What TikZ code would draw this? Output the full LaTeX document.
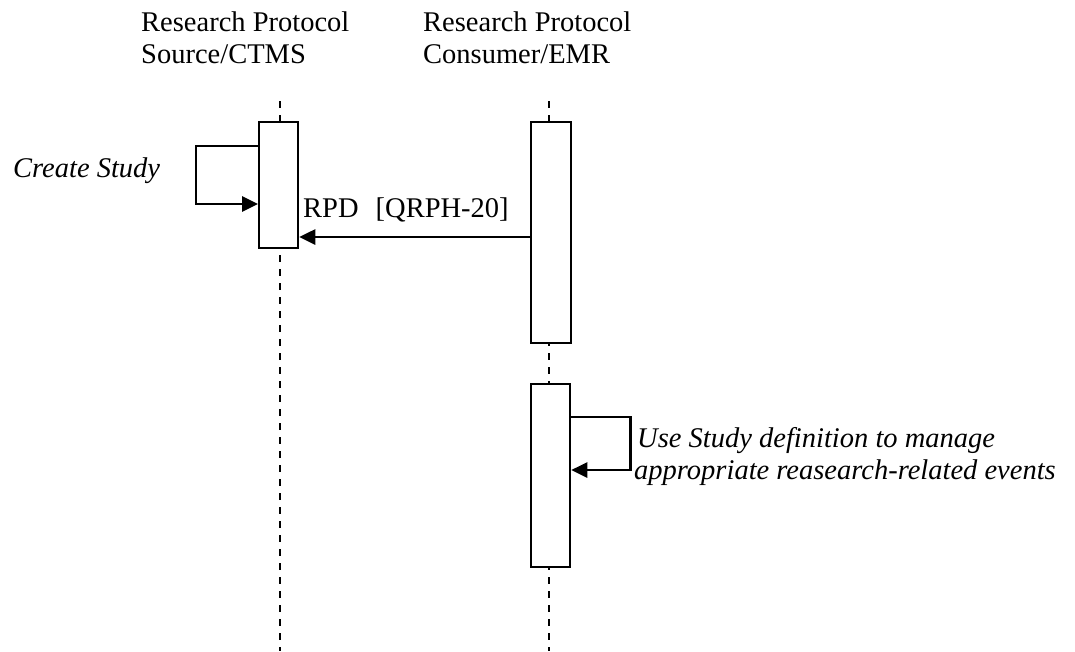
\documentclass[tikz,border=0pt]{standalone}
\usepackage{fontspec}
\setmainfont{Liberation Serif}
\usetikzlibrary{arrows.meta,calc}

\tikzset{
  lifeline/.style={line width=2.2pt, dash pattern=on 7pt off 7pt},
  actbox/.style={draw, fill=white, line width=2.3pt, inner sep=0pt, anchor=north west},
  msg/.style={line width=2.8pt, -{Triangle[length=16pt,width=15pt]}},
  label/.style={inner sep=0pt, anchor=base west, font=\fontsize{28.5}{33}\selectfont},
  note/.style={label, font=\fontsize{28.5}{33}\selectfont\itshape},
}

\begin{document}
\begin{tikzpicture}[x=1pt, y=-1pt]
  \useasboundingbox (0,0) rectangle (1075,651);

  % actor headings
  \node[label] (srchead1) at (141,31) {Research Protocol};
  \node[label] (srchead2) at (141,63) {Source/CTMS};
  \node[label] (conhead1) at (423,31) {Research Protocol};
  \node[label] (conhead2) at (423,63) {Consumer/EMR};

  % lifelines
  \coordinate (srctop) at (280,101);
  \coordinate (srcend) at (280,651);
  \coordinate (contop) at (549,101);
  \coordinate (conend) at (549,651);
  \draw[lifeline] (srctop) -- (srcend);
  \draw[lifeline] (contop) -- (conend);

  % activation bars
  \node[actbox, minimum width=39pt, minimum height=126pt] (srcbar) at (258,121) {};
  \node[actbox, minimum width=40pt, minimum height=221pt] (conbar) at (530,121) {};
  \node[actbox, minimum width=39pt, minimum height=183pt] (usebar) at (530,383) {};

  % self call: create study
  \draw[msg] ($(srcbar.north west)+(0,25)$) -- ++(-62,0) -- ++(0,58) -- ++(62,0);
  \node[note] (create) at (13,177) {Create Study};

  % RPD transaction
  \draw[msg] (conbar.west |- 0,237) -- (srcbar.east |- 0,237);
  \node[label] (rpd) at (303,217) {RPD\hspace{0.6em}[QRPH-20]};

  % self call: use study definition
  \draw[msg] ($(usebar.north east)+(0,34)$) -- ++(59,0) -- ++(0,53) -- ++(-59,0);
  \node[note] (use1) at (637,447) {Use Study definition to manage};
  \node[note] (use2) at (634,479) {appropriate reasearch-related events};
\end{tikzpicture}
\end{document}
